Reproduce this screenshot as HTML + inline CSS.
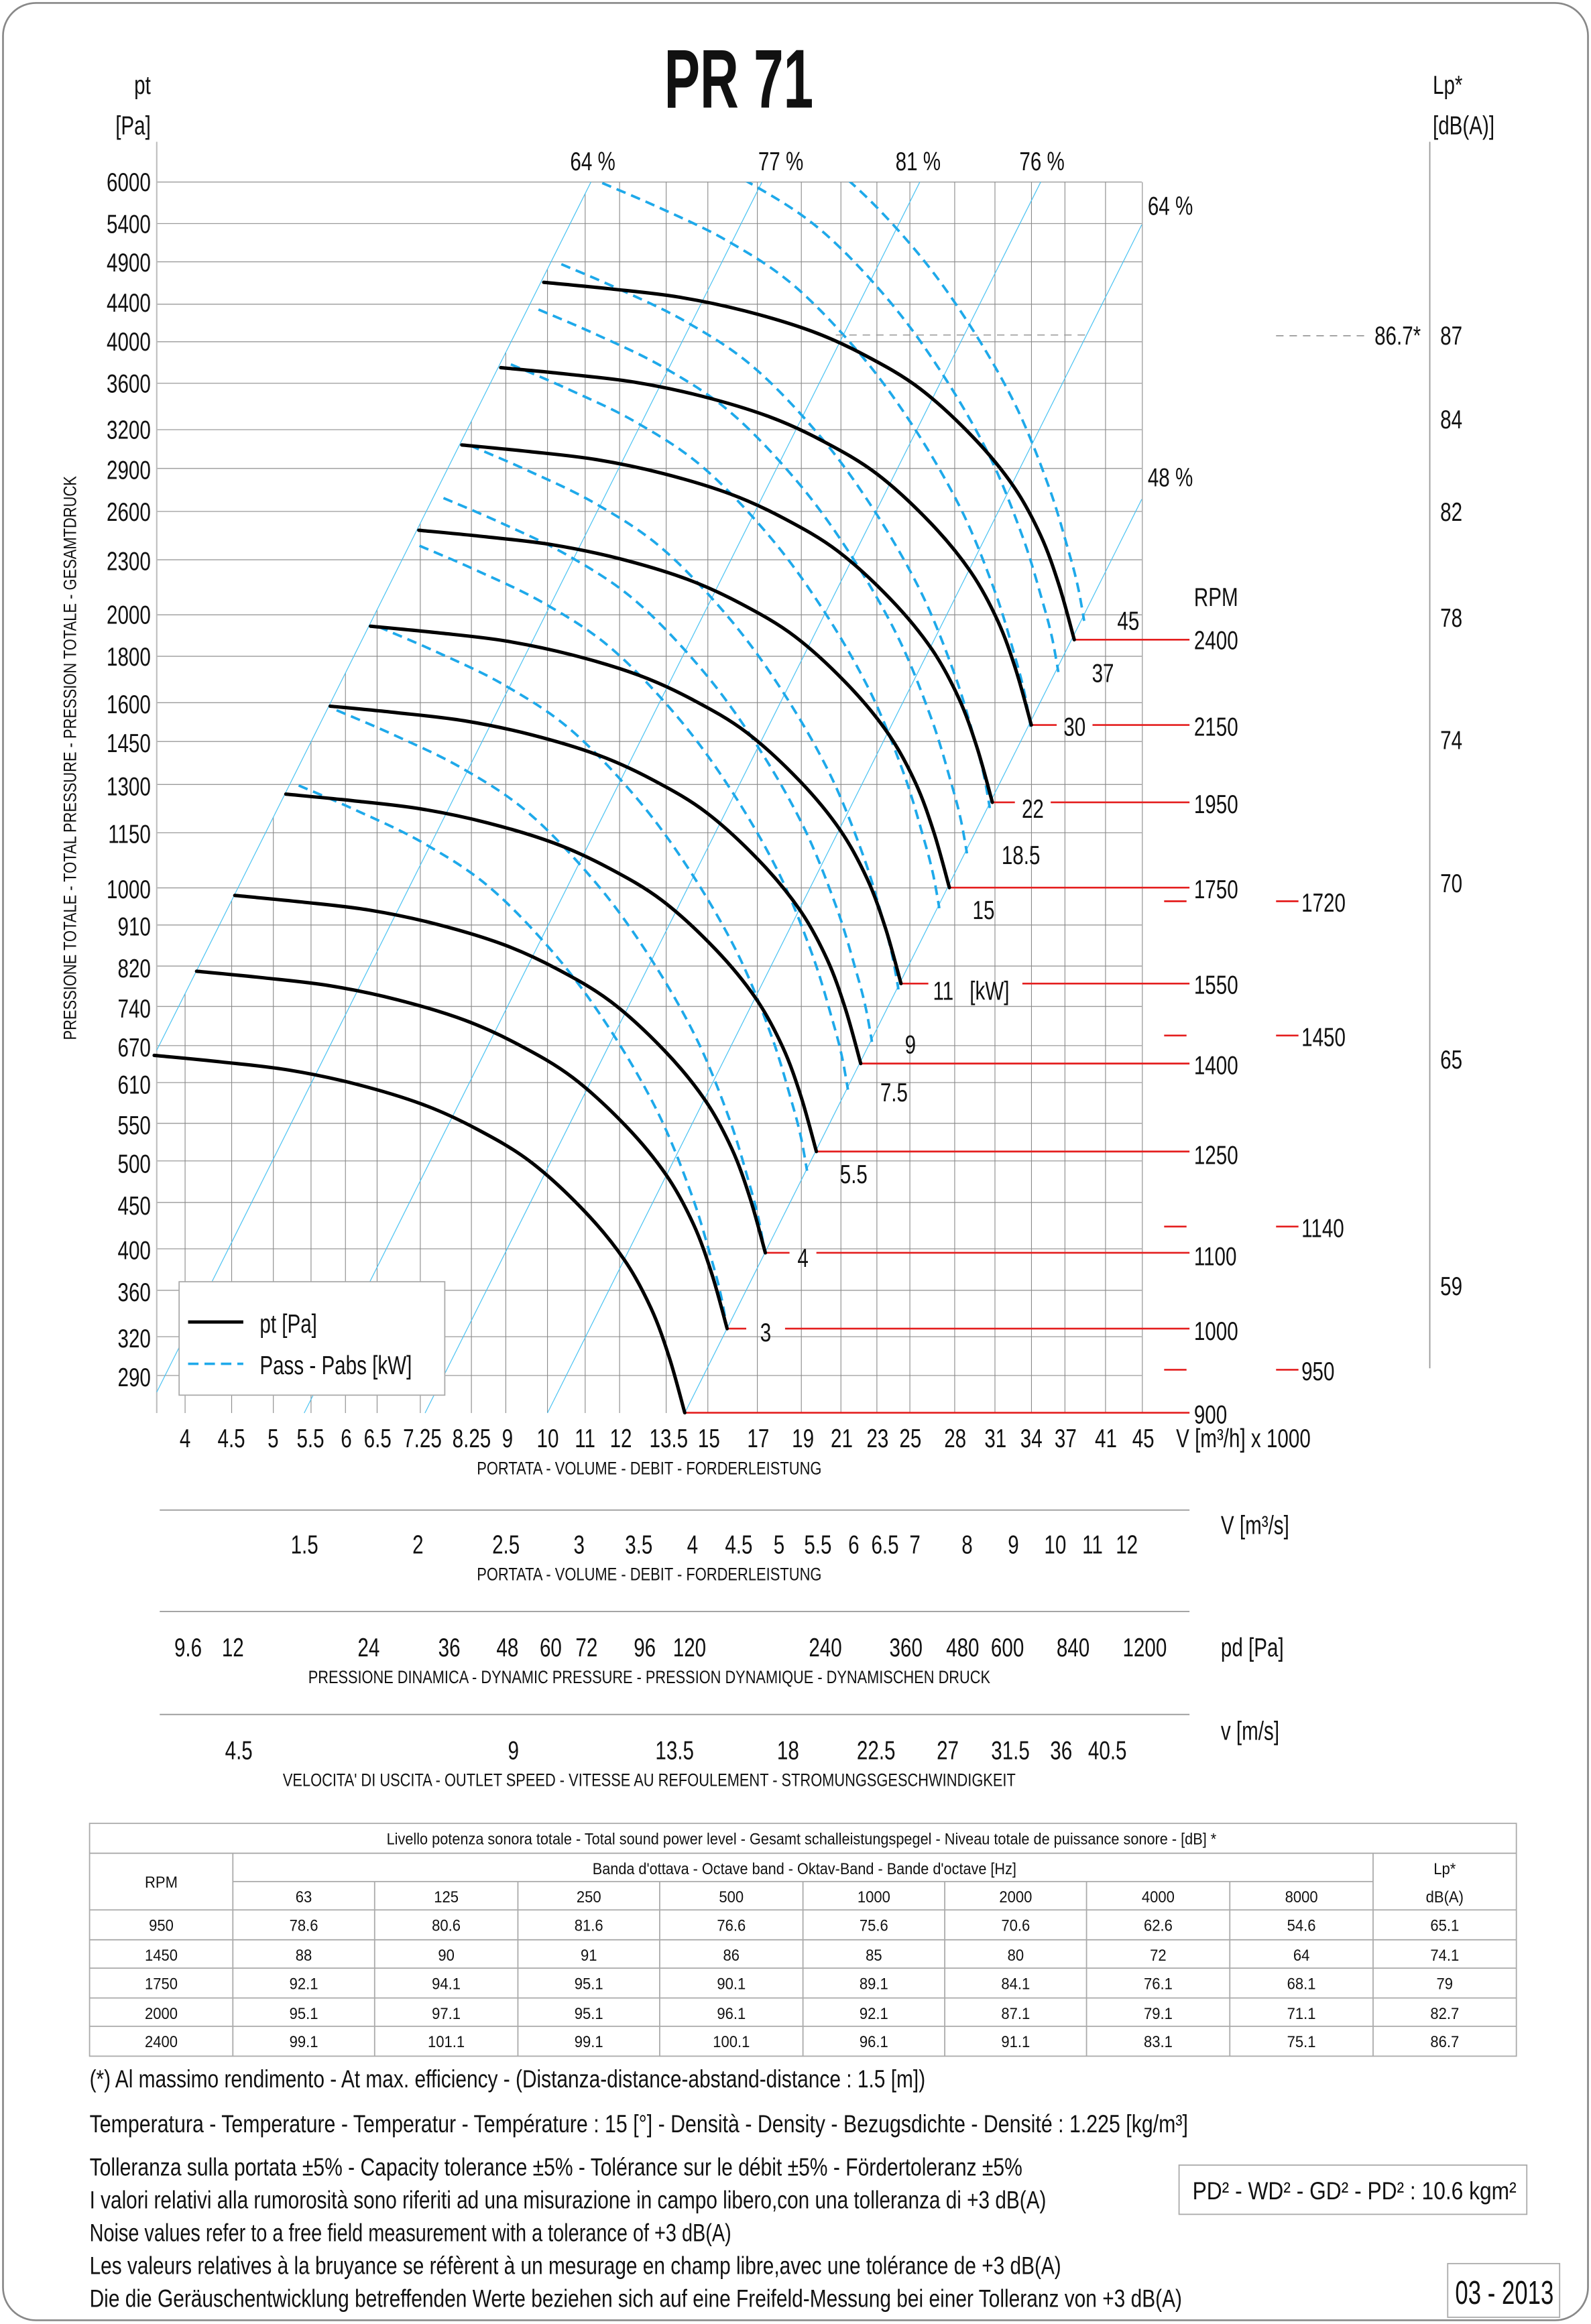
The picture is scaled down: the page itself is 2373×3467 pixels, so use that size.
<!DOCTYPE html>
<html><head><meta charset="utf-8">
<style>
html,body{margin:0;padding:0;background:#fff;}
svg{display:block;}
text{font-family:"Liberation Sans Narrow","Liberation Sans",sans-serif;fill:#111;}
.t{font-size:17.5px;}
.s{font-size:12px;}
.tb{font-size:11px;}
.f{font-size:16.5px;}
</style></head>
<body>
<svg id="svg" xmlns="http://www.w3.org/2000/svg" width="2373" height="3467" viewBox="0 0 1066 1557.5">
<defs><clipPath id="cp"><rect x="100" y="122" width="700" height="830"/></clipPath></defs>
<rect x="2" y="2" width="1062" height="1553" rx="22" ry="22" fill="#fff" stroke="#888" stroke-width="1.2"/>
<g id="grid"></g>
<g id="curves"></g>

<text x="495" y="72" font-size="56" font-weight="bold" text-anchor="middle" textLength="100" lengthAdjust="spacingAndGlyphs">PR 71</text>

<g class="t" text-anchor="end">
<text x="101" y="63">pt</text><text x="101" y="90">[Pa]</text>
<text x="101" y="128">6000</text><text x="101" y="156">5400</text><text x="101" y="182">4900</text><text x="101" y="209">4400</text><text x="101" y="235">4000</text><text x="101" y="263">3600</text><text x="101" y="294">3200</text><text x="101" y="321">2900</text><text x="101" y="349">2600</text><text x="101" y="382">2300</text><text x="101" y="418">2000</text><text x="101" y="446">1800</text><text x="101" y="478">1600</text><text x="101" y="504">1450</text><text x="101" y="533">1300</text><text x="101" y="565">1150</text><text x="101" y="602">1000</text><text x="101" y="627">910</text><text x="101" y="655">820</text><text x="101" y="682">740</text><text x="101" y="708">670</text><text x="101" y="733">610</text><text x="101" y="760">550</text><text x="101" y="786">500</text><text x="101" y="814">450</text><text x="101" y="844">400</text><text x="101" y="872">360</text><text x="101" y="903">320</text><text x="101" y="929">290</text>
</g>
<text class="s" transform="translate(51,508) rotate(-90)" text-anchor="middle" textLength="378" lengthAdjust="spacingAndGlyphs">PRESSIONE TOTALE - TOTAL PRESSURE - PRESSION TOTALE - GESAMTDRUCK</text>

<g class="t">
<text x="382" y="114">64 %</text><text x="508" y="114">77 %</text><text x="600" y="114">81 %</text><text x="683" y="114">76 %</text>
<text x="769" y="144">64 %</text><text x="769" y="326">48 %</text>
</g>

<g class="t" text-anchor="middle">
<text x="124" y="970">4</text><text x="155" y="970">4.5</text><text x="183" y="970">5</text><text x="208" y="970">5.5</text><text x="232" y="970">6</text><text x="253" y="970">6.5</text><text x="283" y="970">7.25</text><text x="316" y="970">8.25</text><text x="340" y="970">9</text><text x="367" y="970">10</text><text x="392" y="970">11</text><text x="416" y="970">12</text><text x="448" y="970">13.5</text><text x="475" y="970">15</text><text x="508" y="970">17</text><text x="538" y="970">19</text><text x="564" y="970">21</text><text x="588" y="970">23</text><text x="610" y="970">25</text><text x="640" y="970">28</text><text x="667" y="970">31</text><text x="691" y="970">34</text><text x="714" y="970">37</text><text x="741" y="970">41</text><text x="766" y="970">45</text>
</g>
<text class="t" x="788" y="970">V [m³/h]  x 1000</text>
<text class="s" x="435" y="988" text-anchor="middle" textLength="231" lengthAdjust="spacingAndGlyphs">PORTATA - VOLUME - DEBIT - FORDERLEISTUNG</text>

<g stroke="#999" stroke-width="0.8">
<line x1="107" y1="1012" x2="797" y2="1012"/>
<line x1="107" y1="1080" x2="797" y2="1080"/>
<line x1="107" y1="1149" x2="797" y2="1149"/>
</g>
<g class="t" text-anchor="middle">
<text x="204" y="1041">1.5</text><text x="280" y="1041">2</text><text x="339" y="1041">2.5</text><text x="388" y="1041">3</text><text x="428" y="1041">3.5</text><text x="464" y="1041">4</text><text x="495" y="1041">4.5</text><text x="522" y="1041">5</text><text x="548" y="1041">5.5</text><text x="572" y="1041">6</text><text x="593" y="1041">6.5</text><text x="613" y="1041">7</text><text x="648" y="1041">8</text><text x="679" y="1041">9</text><text x="707" y="1041">10</text><text x="732" y="1041">11</text><text x="755" y="1041">12</text>
<text x="126" y="1110">9.6</text><text x="156" y="1110">12</text><text x="247" y="1110">24</text><text x="301" y="1110">36</text><text x="340" y="1110">48</text><text x="369" y="1110">60</text><text x="393" y="1110">72</text><text x="432" y="1110">96</text><text x="462" y="1110">120</text><text x="553" y="1110">240</text><text x="607" y="1110">360</text><text x="645" y="1110">480</text><text x="675" y="1110">600</text><text x="719" y="1110">840</text><text x="767" y="1110">1200</text>
<text x="160" y="1179">4.5</text><text x="344" y="1179">9</text><text x="452" y="1179">13.5</text><text x="528" y="1179">18</text><text x="587" y="1179">22.5</text><text x="635" y="1179">27</text><text x="677" y="1179">31.5</text><text x="711" y="1179">36</text><text x="742" y="1179">40.5</text>
</g>
<g class="t">
<text x="818" y="1028">V  [m³/s]</text>
<text x="818" y="1110">pd  [Pa]</text>
<text x="818" y="1166">v  [m/s]</text>
</g>
<text class="s" x="435" y="1059" text-anchor="middle" textLength="231" lengthAdjust="spacingAndGlyphs">PORTATA - VOLUME - DEBIT - FORDERLEISTUNG</text>
<text class="s" x="435" y="1128" text-anchor="middle" textLength="457" lengthAdjust="spacingAndGlyphs">PRESSIONE DINAMICA - DYNAMIC PRESSURE - PRESSION DYNAMIQUE - DYNAMISCHEN DRUCK</text>
<text class="s" x="435" y="1197" text-anchor="middle" textLength="491" lengthAdjust="spacingAndGlyphs">VELOCITA' DI USCITA - OUTLET SPEED - VITESSE AU REFOULEMENT - STROMUNGSGESCHWINDIGKEIT</text>

<g class="t">
<text x="800" y="406">RPM</text>
<text x="800" y="435">2400</text><text x="800" y="493">2150</text><text x="800" y="545">1950</text><text x="800" y="602">1750</text><text x="800" y="666">1550</text><text x="800" y="720">1400</text><text x="800" y="780">1250</text><text x="800" y="848">1100</text><text x="800" y="898">1000</text><text x="800" y="954">900</text>
<text x="872" y="611">1720</text><text x="872" y="701">1450</text><text x="872" y="829">1140</text><text x="872" y="925">950</text>
</g>
<g stroke="#e41e1e" stroke-width="1.2">
<line x1="780" y1="604" x2="795" y2="604"/><line x1="780" y1="694" x2="795" y2="694"/><line x1="780" y1="822" x2="795" y2="822"/><line x1="780" y1="918" x2="795" y2="918"/>
<line x1="855" y1="604" x2="870" y2="604"/><line x1="855" y1="694" x2="870" y2="694"/><line x1="855" y1="822" x2="870" y2="822"/><line x1="855" y1="918" x2="870" y2="918"/>
</g>

<g class="t" text-anchor="middle">
<text x="756" y="422">45</text><text x="739" y="457">37</text><text x="720" y="493">30</text><text x="692" y="548">22</text><text x="684" y="579">18.5</text><text x="659" y="616">15</text><text x="632" y="670">11</text><text x="663" y="670">[kW]</text><text x="610" y="706">9</text><text x="599" y="738">7.5</text><text x="572" y="793">5.5</text><text x="538" y="849">4</text><text x="513" y="899">3</text>
</g>

<line x1="958" y1="95" x2="958" y2="917" stroke="#999" stroke-width="0.8"/>
<line x1="855" y1="225" x2="915" y2="225" stroke="#999" stroke-width="0.8" stroke-dasharray="5,4"/>
<g class="t">
<text x="960" y="63">Lp*</text><text x="960" y="90">[dB(A)]</text>
<text x="952" y="231" text-anchor="end">86.7*</text>
<text x="965" y="231">87</text><text x="965" y="287">84</text><text x="965" y="349">82</text><text x="965" y="420">78</text><text x="965" y="502">74</text><text x="965" y="598">70</text><text x="965" y="716">65</text><text x="965" y="868">59</text>
</g>

<rect x="120" y="859" width="178" height="76" fill="#fff" stroke="#aaa" stroke-width="0.8"/>
<line x1="126" y1="886" x2="163" y2="886" stroke="#000" stroke-width="2.2"/>
<line x1="126" y1="914" x2="163" y2="914" stroke="#1ea9ea" stroke-width="1.6" stroke-dasharray="7,4"/>
<text class="t" x="174" y="893">pt [Pa]</text>
<text class="t" x="174" y="921">Pass - Pabs [kW]</text>

<g id="tbl" stroke="#aaa" stroke-width="0.8" fill="none">
<rect x="60" y="1222" width="956" height="156"/>
<line x1="60" y1="1242" x2="1016" y2="1242"/>
<line x1="156" y1="1261" x2="920" y2="1261"/>
<line x1="60" y1="1280" x2="1016" y2="1280"/>
<line x1="60" y1="1300" x2="1016" y2="1300"/>
<line x1="60" y1="1319" x2="1016" y2="1319"/>
<line x1="60" y1="1339" x2="1016" y2="1339"/>
<line x1="60" y1="1358" x2="1016" y2="1358"/>
<line x1="156" y1="1242" x2="156" y2="1378"/>
<line x1="920" y1="1242" x2="920" y2="1378"/>
<line x1="251" y1="1261" x2="251" y2="1378"/><line x1="347" y1="1261" x2="347" y2="1378"/><line x1="442" y1="1261" x2="442" y2="1378"/><line x1="538" y1="1261" x2="538" y2="1378"/><line x1="633" y1="1261" x2="633" y2="1378"/><line x1="728" y1="1261" x2="728" y2="1378"/><line x1="824" y1="1261" x2="824" y2="1378"/>
</g>
<g class="tb" text-anchor="middle">
<text x="537" y="1236" textLength="556" lengthAdjust="spacingAndGlyphs">Livello potenza sonora totale - Total sound power level - Gesamt schalleistungspegel - Niveau totale de puissance sonore - [dB]   *</text>
<text x="539" y="1256" textLength="284" lengthAdjust="spacingAndGlyphs">Banda d'ottava - Octave band - Oktav-Band - Bande d'octave [Hz]</text>
<text x="108" y="1265">RPM</text>
<text x="968" y="1256">Lp*</text><text x="968" y="1275">dB(A)</text>
<text x="203.5" y="1275">63</text><text x="299" y="1275">125</text><text x="394.5" y="1275">250</text><text x="490" y="1275">500</text><text x="585.5" y="1275">1000</text><text x="680.5" y="1275">2000</text><text x="776" y="1275">4000</text><text x="872" y="1275">8000</text>
<text x="108" y="1294">950</text><text x="203.5" y="1294">78.6</text><text x="299" y="1294">80.6</text><text x="394.5" y="1294">81.6</text><text x="490" y="1294">76.6</text><text x="585.5" y="1294">75.6</text><text x="680.5" y="1294">70.6</text><text x="776" y="1294">62.6</text><text x="872" y="1294">54.6</text><text x="968" y="1294">65.1</text>
<text x="108" y="1314">1450</text><text x="203.5" y="1314">88</text><text x="299" y="1314">90</text><text x="394.5" y="1314">91</text><text x="490" y="1314">86</text><text x="585.5" y="1314">85</text><text x="680.5" y="1314">80</text><text x="776" y="1314">72</text><text x="872" y="1314">64</text><text x="968" y="1314">74.1</text>
<text x="108" y="1333">1750</text><text x="203.5" y="1333">92.1</text><text x="299" y="1333">94.1</text><text x="394.5" y="1333">95.1</text><text x="490" y="1333">90.1</text><text x="585.5" y="1333">89.1</text><text x="680.5" y="1333">84.1</text><text x="776" y="1333">76.1</text><text x="872" y="1333">68.1</text><text x="968" y="1333">79</text>
<text x="108" y="1353">2000</text><text x="203.5" y="1353">95.1</text><text x="299" y="1353">97.1</text><text x="394.5" y="1353">95.1</text><text x="490" y="1353">96.1</text><text x="585.5" y="1353">92.1</text><text x="680.5" y="1353">87.1</text><text x="776" y="1353">79.1</text><text x="872" y="1353">71.1</text><text x="968" y="1353">82.7</text>
<text x="108" y="1372">2400</text><text x="203.5" y="1372">99.1</text><text x="299" y="1372">101.1</text><text x="394.5" y="1372">99.1</text><text x="490" y="1372">100.1</text><text x="585.5" y="1372">96.1</text><text x="680.5" y="1372">91.1</text><text x="776" y="1372">83.1</text><text x="872" y="1372">75.1</text><text x="968" y="1372">86.7</text>
</g>

<g class="f">
<text x="60" y="1399" textLength="560" lengthAdjust="spacingAndGlyphs">(*) Al massimo rendimento - At max. efficiency - (Distanza-distance-abstand-distance : 1.5 [m])</text>
<text x="60" y="1429" textLength="736" lengthAdjust="spacingAndGlyphs">Temperatura - Temperature - Temperatur - Température : 15 [°]  -  Densità - Density - Bezugsdichte - Densité : 1.225 [kg/m³]</text>
<text x="60" y="1458" textLength="625" lengthAdjust="spacingAndGlyphs">Tolleranza sulla portata  ±5% - Capacity tolerance ±5% - Tolérance sur le débit ±5% - Fördertoleranz ±5%</text>
<text x="60" y="1480" textLength="641" lengthAdjust="spacingAndGlyphs">I valori relativi alla rumorosità sono riferiti ad una misurazione in campo libero,con una tolleranza di +3 dB(A)</text>
<text x="60" y="1502" textLength="430" lengthAdjust="spacingAndGlyphs">Noise values refer to a free field measurement with a tolerance of +3 dB(A)</text>
<text x="60" y="1524" textLength="651" lengthAdjust="spacingAndGlyphs">Les valeurs relatives à la bruyance se réfèrent à un mesurage en champ libre,avec une tolérance de +3 dB(A)</text>
<text x="60" y="1546" textLength="732" lengthAdjust="spacingAndGlyphs">Die die Geräuschentwicklung betreffenden Werte beziehen sich auf eine Freifeld-Messung bei einer Tolleranz von +3 dB(A)</text>
</g>
<rect x="790" y="1451" width="233" height="33" fill="none" stroke="#aaa" stroke-width="0.8"/>
<text class="f" x="799" y="1474" textLength="217" lengthAdjust="spacingAndGlyphs">PD² -  WD² - GD² -  PD²  :  10.6 kgm²</text>
<rect x="970" y="1517" width="75" height="36" fill="none" stroke="#aaa" stroke-width="0.8"/>
<text x="1008" y="1544" font-size="22" text-anchor="middle" textLength="66" lengthAdjust="spacingAndGlyphs">03 - 2013</text>
</svg>
<script>
(function(){
var NS="http://www.w3.org/2000/svg";
var grid=document.getElementById('grid'), cur=document.getElementById('curves');
function el(p,tag,a){var e=document.createElementNS(NS,tag);for(var k in a)e.setAttribute(k,a[k]);p.appendChild(e);return e;}
function ln(p,x1,y1,x2,y2,c,w,d){var a={x1:x1,y1:y1,x2:x2,y2:y2,stroke:c,'stroke-width':w};if(d)a['stroke-dasharray']=d;el(p,'line',a);}
var X=function(v){return 124+265*Math.log(v/4);};
var Y=function(p){return 122+264*Math.log(6000/p);};
var ps=[6000,5400,4900,4400,4000,3600,3200,2900,2600,2300,2000,1800,1600,1450,1300,1150,1000,910,820,740,670,610,550,500,450,400,360,320,290];
ps.forEach(function(p){ln(grid,105,Y(p),765,Y(p),'#9a9a9a',0.6);});
var vs=[4,4.5,5,5.5,6,6.5,7.25,8.25,9,10,11,12,13.5,15,17,19,21,23,25,28,31,34,37,41,45];
vs.forEach(function(v){var x=X(v);var yt=Math.max(122,913.9-2*x);ln(grid,x,yt,x,947,'#8a8a8a',0.5);});
ln(grid,105,95,105,947,'#bbb',0.9);
[913.9,1143,1354.6,1516.6,1680.6,1864.6].forEach(function(c){
 var x1=Math.max(105,(c-947)/2),y1=c-2*x1,x2=Math.min(765,(c-122)/2),y2=c-2*x2;
 ln(grid,x1,y1,x2,y2,'#4cc3f2',0.55);});
function path(pts){var d='M'+pts[0][0].toFixed(2)+','+pts[0][1].toFixed(2);
 for(var i=0;i<pts.length-1;i++){var p0=pts[i-1]||pts[i],p1=pts[i],p2=pts[i+1],p3=pts[i+2]||p2;
  d+='C'+(p1[0]+(p2[0]-p0[0])/6).toFixed(2)+','+(p1[1]+(p2[1]-p0[1])/6).toFixed(2)+' '+(p2[0]-(p3[0]-p1[0])/6).toFixed(2)+','+(p2[1]-(p3[1]-p1[1])/6).toFixed(2)+' '+p2[0].toFixed(2)+','+p2[1].toFixed(2);}
 return d;}
var K=1.985;
var base3=[[200.1,526.4],[238.3,542.9],[283.3,564.8],[328.3,594.9],[373.3,641.5],[409.3,690.8],[440.8,745.6],[463.3,800.4],[476.8,844.3],[483,868],[487.2,890.9]];
var gD=el(cur,'g',{'clip-path':'url(#cp)'});
[3,4,5.5,7.5,9,11,15,18.5,22,30,37,45].forEach(function(P){var dx=265*Math.log(P/3)/3;
 var pts=base3.map(function(q){return [q[0]+dx,q[1]-K*dx];});
 el(gD,'path',{d:path(pts),fill:'none',stroke:'#1ea9ea','stroke-width':1.7,'stroke-dasharray':'6.5,4'});});
var base=[[103.3,707.3],[148.3,711.7],[193.3,717.1],[238.3,726.5],[283.3,740.2],[319.3,756.6],[355.3,778.5],[391.3,811.4],[418.3,844.3],[436.3,877],[448.5,910],[458.8,946.8]];
var ends=[458.8,487.2,512.8,547,576.7,603.7,636.1,664.9,691,719.8];
ln(cur,560,224.5,731,224.5,'#999',0.7,'5,4');
var gaps={1:[[500,526]],2:[[529,547]],5:[[622,685]],7:[[680,704]],8:[[708,732]]};
ends.forEach(function(xe,i){var dx=xe-458.8;
 var pts=base.map(function(q){return [q[0]+dx,q[1]-K*dx];});
 var ye=pts[pts.length-1][1];
 var segs=[[xe,797]];var g=gaps[i];
 if(g){segs=[];var s=xe;g.forEach(function(r){segs.push([s,r[0]]);s=r[1];});segs.push([s,797]);}
 segs.forEach(function(sg){ln(cur,sg[0],ye,sg[1],ye,'#e41e1e',1.2);});
 el(cur,'path',{d:path(pts),fill:'none',stroke:'#000','stroke-width':2.3,'stroke-linecap':'round'});
});
var ts=document.querySelectorAll('text');
for(var i=0;i<ts.length;i++){var t=ts[i];if(t.hasAttribute('textLength'))continue;
 var tb=t.parentNode&&t.parentNode.getAttribute&&t.parentNode.getAttribute('class')==='tb';
 var f=tb?0.9:0.76;
 try{var L=t.getComputedTextLength();if(L>0){t.setAttribute('textLength',(L*f).toFixed(2));t.setAttribute('lengthAdjust','spacingAndGlyphs');}}catch(e){}}
})();
</script>
</body></html>
